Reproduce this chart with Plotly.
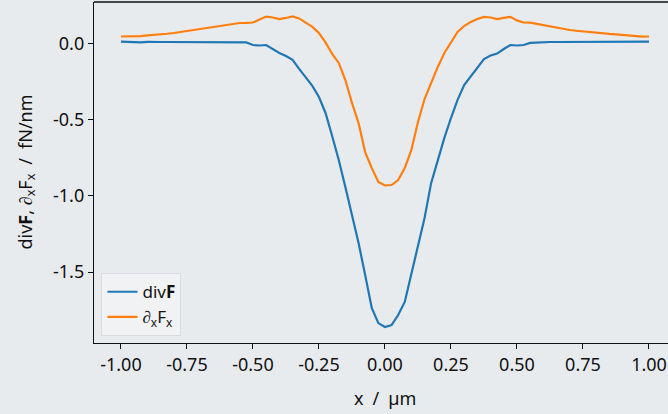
import plotly.graph_objects as go

x_um = [-1.000, -0.975, -0.950, -0.925, -0.900, -0.875, -0.850, -0.825, -0.800, -0.775,
        -0.750, -0.725, -0.700, -0.675, -0.650, -0.625, -0.600, -0.575, -0.550, -0.525,
        -0.500, -0.475, -0.450, -0.425, -0.400, -0.375, -0.350, -0.325, -0.300, -0.275,
        -0.250, -0.225, -0.200, -0.175, -0.150, -0.125, -0.100, -0.075, -0.050, -0.025,
        0.000, 0.025, 0.050, 0.075, 0.100, 0.125, 0.150, 0.175, 0.200, 0.225,
        0.250, 0.275, 0.300, 0.325, 0.350, 0.375, 0.400, 0.425, 0.450, 0.475,
        0.500, 0.525, 0.550, 0.575, 0.600, 0.625, 0.650, 0.675, 0.700, 0.725,
        0.750, 0.775, 0.800, 0.825, 0.850, 0.875, 0.900, 0.925, 0.950, 0.975, 1.000]

div_F = [0.016, 0.013, 0.010, 0.010, 0.014, 0.016, 0.013, 0.013, 0.013, 0.013,
         0.013, 0.014, 0.014, 0.014, 0.014, 0.014, 0.013, 0.013, 0.013, 0.010,
         -0.007, -0.010, -0.007, -0.033, -0.059, -0.079, -0.105, -0.164, -0.217, -0.276,
         -0.349, -0.454, -0.605, -0.763, -0.941, -1.125, -1.309, -1.520, -1.737, -1.836,
         -1.862, -1.849, -1.783, -1.697, -1.513, -1.322, -1.145, -0.914, -0.757, -0.618,
         -0.487, -0.368, -0.270, -0.211, -0.151, -0.099, -0.076, -0.063, -0.033, -0.007,
         -0.010, -0.007, 0.007, 0.010, 0.012, 0.013, 0.013, 0.013, 0.012, 0.013,
         0.013, 0.013, 0.012, 0.012, 0.013, 0.011, 0.013, 0.014, 0.011, 0.011, 0.015]

dx_Fx = [0.049, 0.049, 0.047, 0.051, 0.057, 0.059, 0.063, 0.067, 0.072, 0.079,
         0.086, 0.092, 0.097, 0.103, 0.112, 0.118, 0.125, 0.132, 0.138, 0.139,
         0.141, 0.161, 0.180, 0.174, 0.164, 0.171, 0.181, 0.168, 0.138, 0.112,
         0.072, 0.010, -0.066, -0.125, -0.237, -0.388, -0.520, -0.711, -0.816, -0.908,
         -0.931, -0.928, -0.895, -0.816, -0.697, -0.513, -0.362, -0.250, -0.151, -0.059,
         0.013, 0.079, 0.118, 0.145, 0.164, 0.178, 0.174, 0.164, 0.171, 0.178,
         0.155, 0.141, 0.140, 0.132, 0.123, 0.115, 0.105, 0.099, 0.092, 0.087,
         0.082, 0.079, 0.074, 0.070, 0.066, 0.063, 0.059, 0.057, 0.049, 0.048, 0.049]

x_tickvals = [-1.0, -0.75, -0.5, -0.25, 0.0, 0.25, 0.5, 0.75, 1.0]
x_ticktext = ["-1.00", "-0.75", "-0.50", "-0.25", "0.00", "0.25", "0.50", "0.75", "1.00"]
y_tickvals = [0.0, -0.5, -1.0, -1.5]
y_ticktext = ["0.0", "-0.5", "-1.0", "-1.5"]

x_title = "x\u2002/\u2002µm"
y_title = "div<b>F</b>, ∂<sub>x</sub>F<sub>x</sub>\u2002/\u2002fN/nm"

BG = "#e8ebee"
FONT = "Noto Sans"
FS = 18

fig = go.Figure()
fig.add_trace(go.Scatter(x=x_um, y=div_F, mode="lines", name="div<b>F</b>",
                         line=dict(color="#1f77b4", width=2.2)))
fig.add_trace(go.Scatter(x=x_um, y=dx_Fx, mode="lines", name="∂<sub>x</sub>F<sub>x</sub>",
                         line=dict(color="#ff7f0e", width=2.2)))

axis_common = dict(showgrid=False, zeroline=False, showline=True, linecolor="#111111",
                   linewidth=1.3, ticks="outside", ticklen=5, tickwidth=1.2,
                   tickcolor="#111111", automargin=False,
                   tickfont=dict(family=FONT, size=FS, color="#111111"))

fig.update_layout(
    width=668, height=414,
    margin=dict(l=94, r=0, t=2, b=71, autoexpand=False),
    paper_bgcolor=BG, plot_bgcolor=BG,
    font=dict(family=FONT, size=FS, color="#111111"),
    xaxis=dict(range=[-1.102, 1.072], tickmode="array", tickvals=x_tickvals,
               ticktext=x_ticktext, **axis_common),
    yaxis=dict(range=[-1.967, 0.276], tickmode="array", tickvals=y_tickvals,
               ticktext=y_ticktext, **axis_common),
    legend=dict(x=0.013, y=0.02, xanchor="left", yanchor="bottom",
                bgcolor="#f0f2f4", bordercolor="#d8dce0", borderwidth=1,
                itemwidth=30, font=dict(family=FONT, size=FS - 1), tracegroupgap=0),
    showlegend=True,
)
fig.add_shape(type="line", xref="paper", yref="paper", x0=0, x1=1, y0=1, y1=1,
              line=dict(color="#111111", width=1.3))
fig.add_annotation(text=x_title, xref="x", yref="paper", x=0.0, y=0, yshift=-55,
                   showarrow=False, font=dict(family=FONT, size=FS), yanchor="middle")
fig.add_annotation(text=y_title, xref="paper", yref="paper", x=0, y=0.5, xshift=-68,
                   textangle=-90, showarrow=False, font=dict(family=FONT, size=FS),
                   xanchor="center", yanchor="middle")

fig.write_html("out.html", config={"displayModeBar": False},
               post_script="document.body.style.margin='0';document.body.style.overflow='hidden';")
